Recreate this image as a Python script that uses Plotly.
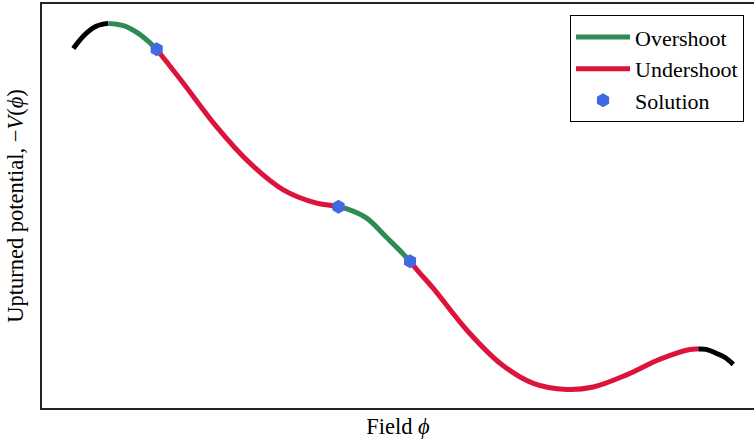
import plotly.graph_objects as go

# Sampled points along the upturned potential -V(phi), arbitrary units
phi = [0.440, 0.600, 0.760, 0.931, 1.053, 1.166, 1.282, 1.404, 1.517,
       1.611, 1.713, 1.985, 2.454, 2.921, 3.389, 3.858, 4.045, 4.164, 4.284,
       4.560, 4.841, 5.070, 5.169, 5.267, 5.496, 5.965, 6.433, 6.900, 7.369,
       7.743, 8.212, 8.680, 9.101, 9.218, 9.326, 9.476, 9.593, 9.709]
neg_v = [8.90, 9.24, 9.45, 9.52, 9.50, 9.45, 9.35, 9.21, 9.04,
         8.88, 8.65, 8.04, 6.96, 6.06, 5.40, 5.07, 5.02, 4.98, 4.93,
         4.70, 4.22, 3.82, 3.63, 3.42, 2.96, 1.93, 1.11, 0.61, 0.46,
         0.52, 0.82, 1.21, 1.45, 1.46, 1.45, 1.35, 1.25, 1.08]

# Segments of the curve: (kind, first index, last index)
segments = [
    ("edge", 0, 3),
    ("overshoot", 3, 9),
    ("undershoot", 9, 17),
    ("overshoot", 17, 22),
    ("undershoot", 22, 33),
    ("edge", 33, 37),
]

# Field values where the shooting solutions sit
solution_phi = [1.611, 4.164, 5.169]
solution_v = [8.88, 4.98, 3.63]

colors = {"edge": "black", "overshoot": "#2e8b57", "undershoot": "#dc143c"}
names = {"overshoot": "Overshoot", "undershoot": "Undershoot"}
ranks = {"overshoot": 1, "undershoot": 2}

FONT = "Liberation Serif, Times New Roman, serif"

fig = go.Figure()
seen = set()
for kind, i0, i1 in segments:
    show = kind in names and kind not in seen
    seen.add(kind)
    fig.add_trace(go.Scatter(
        x=phi[i0:i1 + 1], y=neg_v[i0:i1 + 1],
        mode="lines",
        line=dict(color=colors[kind], width=5, shape="spline", smoothing=1.0),
        name=names.get(kind, ""),
        legendgroup=kind,
        showlegend=show,
        legendrank=ranks.get(kind, 10),
        hoverinfo="skip",
    ))

fig.add_trace(go.Scatter(
    x=solution_phi, y=solution_v,
    mode="markers",
    marker=dict(symbol="hexagon", size=14, color="#4169e1",
                line=dict(width=0)),
    name="Solution",
    legendgroup="solution",
    legendrank=3,
))

axis_common = dict(
    showgrid=False, zeroline=False, showticklabels=False, ticks="",
    showline=True, linecolor="#222222", linewidth=1.5,
)

fig.update_layout(
    width=754, height=439,
    margin=dict(l=42, r=0, t=4, b=31),
    paper_bgcolor="white", plot_bgcolor="white",
    font=dict(family=FONT, size=22, color="black"),
    xaxis=dict(range=[0, 10], mirror=True,
               title=dict(text="Field <i>ϕ</i>", standoff=11,
                          font=dict(family=FONT, size=22.5)),
               **axis_common),
    yaxis=dict(range=[0, 10], mirror=False,
               title=dict(text="Upturned potential, −<i>V</i>(<i>ϕ</i>)",
                          standoff=10, font=dict(family=FONT, size=22.5)),
               **axis_common),
    legend=dict(
        x=0.7416, y=0.972, xanchor="left", yanchor="top",
        bordercolor="black", borderwidth=1, bgcolor="white",
        font=dict(family=FONT, size=22),
        itemwidth=54, tracegroupgap=0,
    ),
    showlegend=True,
)

fig.write_html("out.html")
